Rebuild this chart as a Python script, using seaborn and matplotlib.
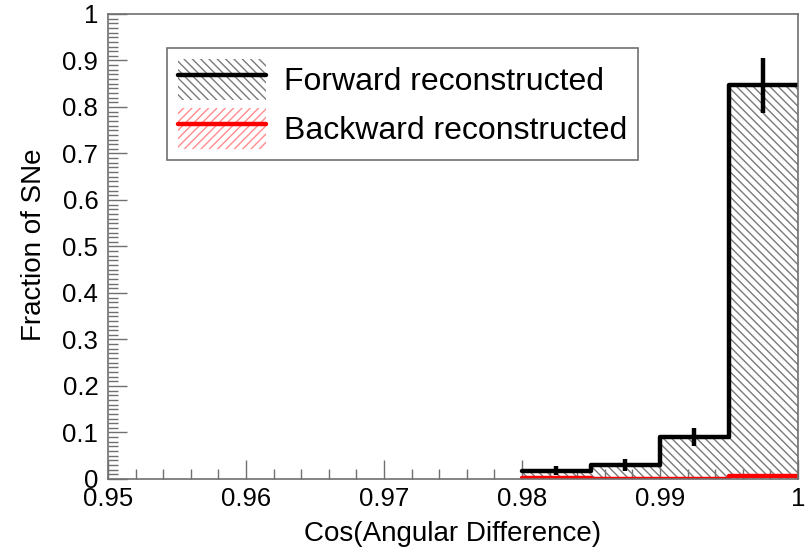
import numpy as np
import pandas as pd
import seaborn as sns
import matplotlib
matplotlib.use("Agg")
import matplotlib.pyplot as plt
from matplotlib.patches import Patch
from matplotlib.lines import Line2D
from matplotlib.legend_handler import HandlerTuple

# ---- data ----
bin_edges = [0.980, 0.985, 0.990, 0.995, 1.000]
forward = [0.018, 0.030, 0.090, 0.847]
forward_err = [0.009, 0.012, 0.020, 0.059]
backward = [0.003, 0.001, 0.001, 0.006]
x_ticks = [0.95, 0.96, 0.97, 0.98, 0.99, 1.0]
x_ticklabels = ["0.95", "0.96", "0.97", "0.98", "0.99", "1"]
y_ticks = [0, 0.1, 0.2, 0.3, 0.4, 0.5, 0.6, 0.7, 0.8, 0.9, 1.0]
y_ticklabels = ["0", "0.1", "0.2", "0.3", "0.4", "0.5", "0.6", "0.7", "0.8", "0.9", "1"]

centers = [(a + b) / 2 for a, b in zip(bin_edges[:-1], bin_edges[1:])]
df = pd.DataFrame({"x": centers, "fwd": forward, "bwd": backward, "err": forward_err})

sns.set_theme(style="ticks")
plt.rcParams["font.family"] = ["Liberation Sans", "DejaVu Sans"]
plt.rcParams["hatch.linewidth"] = 1.0
plt.rcParams["text.color"] = "black"

fig = plt.figure(figsize=(8.09, 5.51), dpi=100)
ax = fig.add_axes([0.1335, 0.1307, 0.8529, 0.8439])

frame_col = "#707070"
fwd_hatch_col = "#7a7a7a"
bwd_hatch_col = "#ff8c8c"
fwd_hatch = "\\\\\\\\"
bwd_hatch = "////"


def hatched_fill(col, color, hatch):
    n0 = len(ax.collections)
    sns.histplot(data=df, x="x", weights=col, bins=bin_edges, element="step", fill=True,
                 color=color, linewidth=0, ax=ax)
    for c in ax.collections[n0:]:
        c.set_facecolor("none")
        c.set_edgecolor(color)
        c.set_linewidth(0)
        c.set_hatch(hatch)


hatched_fill("fwd", fwd_hatch_col, fwd_hatch)
hatched_fill("bwd", bwd_hatch_col, bwd_hatch)
# outlines
sns.histplot(data=df, x="x", weights="fwd", bins=bin_edges, element="step", fill=False,
             color="black", linewidth=3.2, ax=ax)
sns.histplot(data=df, x="x", weights="bwd", bins=bin_edges, element="step", fill=False,
             color="#ff0000", linewidth=3.2, ax=ax)
ax.errorbar(df["x"], df["fwd"], yerr=df["err"], fmt="none", ecolor="black",
            elinewidth=3.2, capsize=0)

ax.set_xlim(0.95, 1.0)
ax.set_ylim(0, 1.0)
ax.set_xticks(x_ticks)
ax.set_xticklabels(x_ticklabels)
ax.set_yticks(y_ticks)
ax.set_yticklabels(y_ticklabels)
ax.set_xticks(np.arange(0.95, 1.0001, 0.002), minor=True)
ax.set_yticks(np.arange(0, 1.0001, 0.01), minor=True)
ax.tick_params(which="major", direction="in", length=14, width=1, color=frame_col,
               labelsize=18.5, labelcolor="black", top=False, right=False)
ax.tick_params(axis="x", which="major", pad=6)
ax.tick_params(axis="y", which="major", pad=7)
ax.tick_params(which="minor", direction="in", length=7, width=1, color=frame_col,
               top=False, right=False)
for s in ax.spines.values():
    s.set_visible(True)
    s.set_color(frame_col)
    s.set_linewidth(1.2)

ax.set_xlabel("Cos(Angular Difference)", fontsize=20, color="black")
ax.xaxis.set_label_coords(0.5, -0.091)
ax.set_ylabel("Fraction of SNe", fontsize=20, color="black")
ax.yaxis.set_label_coords(-0.088, 0.503)

h_f = (Patch(facecolor="none", edgecolor=fwd_hatch_col, hatch=fwd_hatch, linewidth=0),
       Line2D([0], [0], color="black", linewidth=3.2))
h_b = (Patch(facecolor="none", edgecolor=bwd_hatch_col, hatch=bwd_hatch, linewidth=0),
       Line2D([0], [0], color="#ff0000", linewidth=3.2))
leg = ax.legend([h_f, h_b], ["Forward reconstructed", "Backward reconstructed"],
                handler_map={tuple: HandlerTuple(ndivide=1, pad=0)},
                loc="upper left", bbox_to_anchor=(0.0855, 0.927), borderaxespad=0,
                fontsize=23, frameon=True, fancybox=False, framealpha=1,
                edgecolor=frame_col, handlelength=2.75, handleheight=1.6,
                handletextpad=0.55, labelspacing=0.25, borderpad=0.35)
leg.get_frame().set_linewidth(1.2)
for t in leg.get_texts():
    t.set_color("black")

fig.savefig("out.png", dpi=100)
